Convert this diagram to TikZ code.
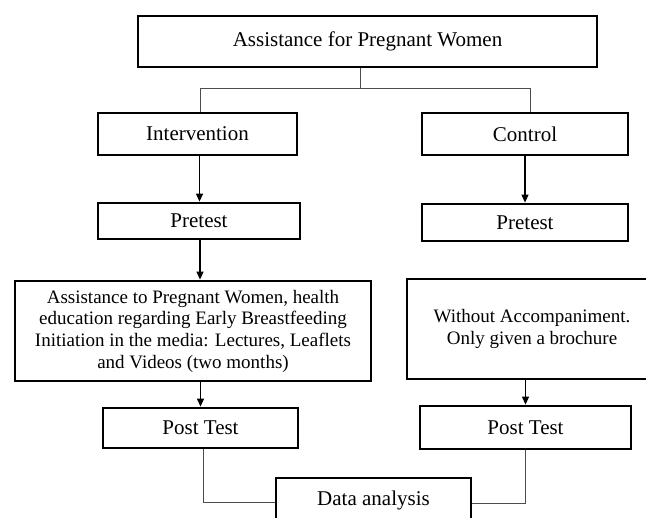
\documentclass[tikz,border=0pt]{standalone}
\usepackage{fontspec}
\setmainfont{Liberation Serif}
\usetikzlibrary{arrows.meta}

\tikzset{
    box/.style={draw, line width=2.8pt, inner sep=0pt, align=center,
        font=\fontsize{21}{23}\selectfont},
    bigbox/.style={box, font=\fontsize{19}{21.7}\selectfont},
    link/.style={draw=black!70, line width=0.8pt},
    arr/.style={line width=1.2pt, -{Triangle[length=8pt,width=7pt]}}
}

\begin{document}
\begin{tikzpicture}[x=1pt, y=-1pt]
    \useasboundingbox (0,0) rectangle (646,518);
    \clip (0,0) rectangle (646,518);
    % Boxes
    \node[box, minimum width=459, minimum height=51] (top) at (367.5,41.5) {Assistance for Pregnant Women};
    \node[box, minimum width=199, minimum height=42] (intv) at (197.5,134) {Intervention};
    \node[box, minimum width=206, minimum height=42] (ctrl) at (525,134) {Control};
    \node[box, minimum width=202, minimum height=36] (pre1) at (199,221) {Pretest};
    \node[box, minimum width=206, minimum height=37] (pre2) at (525,222.5) {Pretest};
    \node[bigbox, minimum width=356, minimum height=100] (treat) at (193,331)
        {Assistance to Pregnant Women, health\\education regarding Early Breastfeeding\\Initiation in the media: Lectures, Leaflets\\and Videos (two months)};
    \node[bigbox, minimum width=250, minimum height=100] (nocare) at (532,329)
        {Without Accompaniment.\\Only given a brochure};
    \node[box, minimum width=195, minimum height=40] (post1) at (200.5,428) {Post Test};
    \node[box, minimum width=211, minimum height=43] (post2) at (525.5,427.5) {Post Test};
    \node[box, minimum width=195, minimum height=44] (data) at (373.5,500) {Data analysis};
    % Split into groups
    \draw[link] ([xshift=-7]top.south) -- ++(0,20) coordinate (split);
    \draw[link] ([xshift=3]intv.north) |- (split) -| ([xshift=5]ctrl.north);
    % Intervention group
    \draw[arr] ([xshift=2]intv.south) -- ([xshift=2]intv.south |- pre1.north);
    \draw[arr] ([xshift=1]pre1.south) -- ([xshift=1]pre1.south |- treat.north);
    \draw[arr] (post1.north |- treat.south) -- (post1.north);
    % Control group
    \draw[arr] (ctrl.south) -- (pre2.north);
    \draw[arr] (post2.north |- nocare.south) -- (post2.north);
    % Analysis
    \draw[link] ([xshift=3]post1.south) |- ([yshift=-2]data.west);
    \draw[link] ([yshift=-3]data.east) -| (post2.south);
\end{tikzpicture}
\end{document}
